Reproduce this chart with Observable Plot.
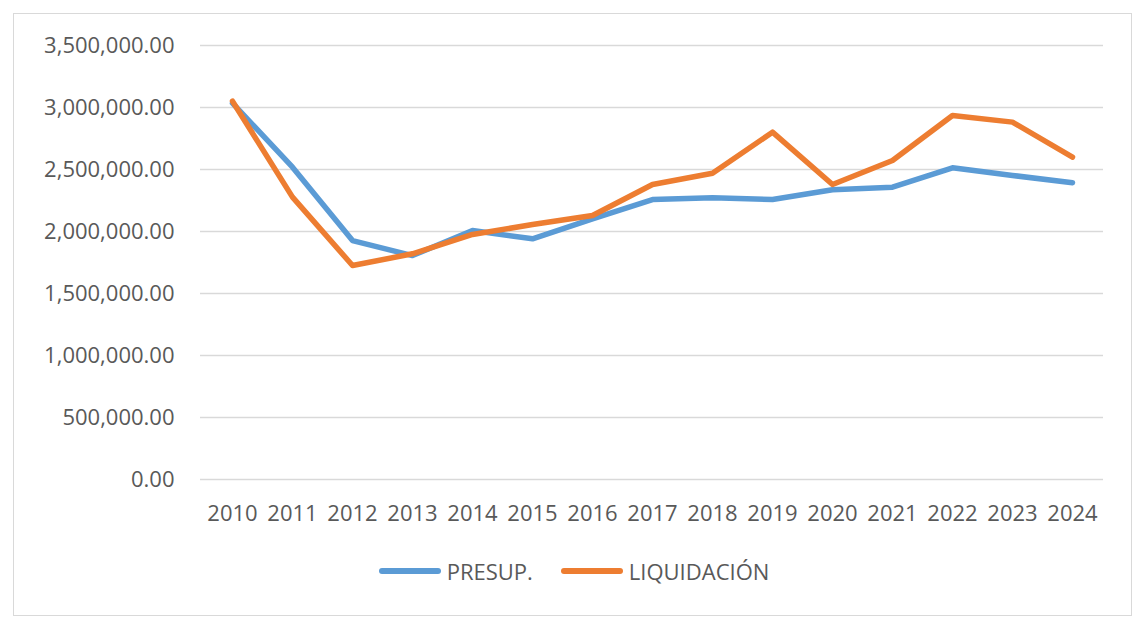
<!DOCTYPE html>
<html>
<head>
<meta charset="utf-8">
<script src="https://cdn.jsdelivr.net/npm/d3@7"></script>
<script src="https://cdn.jsdelivr.net/npm/@observablehq/plot@0.6"></script>
<style>
  html, body { margin: 0; padding: 0; background: #fff; }
  body { width: 1148px; height: 630px; position: relative; overflow: hidden; font-family: "Open Sans", "Liberation Sans", sans-serif; }
  #frame { position: absolute; left: 13px; top: 13px; width: 1119px; height: 603px; border: 1.5px solid #d9d9d9; box-sizing: border-box; }
  #chart { position: absolute; left: 0; top: 0; }
  #legend { position: absolute; top: 556px; left: 0; width: 1148px; display: flex; justify-content: center; font-size: 22px; color: #595959; }
  .item { display: flex; align-items: center; margin: 0 14px; }
  .sw { width: 62px; height: 6px; border-radius: 3px; margin-right: 6px; }
</style>
</head>
<body>
<div id="frame"></div>
<div id="chart"></div>
<div id="legend"></div>
<script>
const years = ["2010","2011","2012","2013","2014","2015","2016","2017","2018","2019","2020","2021","2022","2023","2024"];
const presup = [3035000, 2519000, 1927000, 1806000, 2008000, 1941000, 2102000, 2258000, 2272000, 2258000, 2336000, 2357000, 2514000, 2452000, 2393000];
const liquidacion = [3051000, 2277000, 1726000, 1820000, 1976000, 2056000, 2129000, 2379000, 2470000, 2801000, 2379000, 2573000, 2935000, 2882000, 2600000];
const seriesNames = ["PRESUP.", "LIQUIDACIÓN"];
const seriesColors = ["#5b9bd5", "#ed7d31"];
const yTicks = [0, 500000, 1000000, 1500000, 2000000, 2500000, 3000000, 3500000];

const data = [];
years.forEach((y, i) => {
  data.push({year: y, value: presup[i], series: seriesNames[0]});
  data.push({year: y, value: liquidacion[i], series: seriesNames[1]});
});

const fmt = d3.format(",.2f");

const chart = Plot.plot({
  width: 1148,
  height: 540,
  marginLeft: 200,
  marginRight: 45,
  marginTop: 45,
  marginBottom: 61,
  style: {fontFamily: '"Open Sans", "Liberation Sans", sans-serif', fontSize: "22px", color: "#595959", background: "transparent"},
  x: {type: "point", domain: years, padding: 0.5, label: null},
  y: {domain: [0, 3500000], label: null},
  color: {domain: seriesNames, range: seriesColors},
  marks: [
    Plot.ruleY(yTicks, {stroke: "#d9d9d9", strokeWidth: 1.5}),
    Plot.axisY({ticks: yTicks, tickFormat: fmt, tickSize: 0, tickPadding: 26, label: null, fontSize: 22, fill: "#595959"}),
    Plot.axisX({tickSize: 0, tickPadding: 26, label: null, fontSize: 22, fill: "#595959"}),
    Plot.line(data, {x: "year", y: "value", z: "series", stroke: "series", strokeWidth: 5.5, strokeLinecap: "round", strokeLinejoin: "round"})
  ]
});
document.getElementById("chart").appendChild(chart);

const legend = document.getElementById("legend");
seriesNames.forEach((n, i) => {
  const item = document.createElement("div");
  item.className = "item";
  const sw = document.createElement("div");
  sw.className = "sw";
  sw.style.background = seriesColors[i];
  const t = document.createElement("span");
  t.textContent = n;
  item.appendChild(sw);
  item.appendChild(t);
  legend.appendChild(item);
});
</script>
</body>
</html>
